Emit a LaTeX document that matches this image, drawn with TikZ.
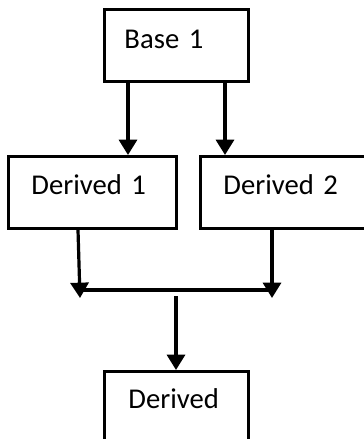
\documentclass[tikz,border=0pt]{standalone}
\usepackage{fontspec}
\setmainfont{Carlito}
\usetikzlibrary{arrows.meta,calc}
\tikzset{
  box/.style={draw, line width=2.2pt, anchor=north west, inner ysep=0pt,
    align=left, font=\fontsize{21.5}{25}\selectfont},
  arr/.style={line width=2.4pt, -{Triangle[width=13.5pt,length=11.5pt]}},
  bus/.style={line width=2.3pt}
}
\begin{document}
\begin{tikzpicture}[x=0.75pt,y=-0.75pt]
  \useasboundingbox (0,0) rectangle (364,439);
  \clip (0,0) rectangle (364,439);
  \fill[white] (0,0) rectangle (364,439);

  % class boxes
  \node[box, inner xsep=15pt, text width=78pt, text height=29.25pt, text depth=24.75pt]
    (base) at (103,8) {Base 1};
  \node[box, inner xsep=17.25pt, text width=91.5pt, text height=28.5pt, text depth=25.5pt]
    (d1) at (7,155) {Derived 1};
  \node[box, inner xsep=17.25pt, text width=91.5pt, text height=28.5pt, text depth=25.5pt]
    (d2) at (199,155) {Derived 2};
  \node[box, inner xsep=18pt, text width=72pt, text height=27.75pt, text depth=26.25pt]
    (der) at (103,370) {Derived};

  % base to the two derived classes
  \coordinate (bl) at ($(base.south west)+(25,0)$);
  \coordinate (br) at ($(base.south west)+(122,0)$);
  \draw[arr] (bl) -- (bl |- d1.north);
  \draw[arr] (br) -- (br |- d2.north);

  % joining bar
  \coordinate (busL) at (80,290);
  \coordinate (busR) at (272,290);
  \coordinate (d1s) at ($(d1.south west)+(71,0)$);
  \coordinate (d2s) at ($(d2.south west)+(73,0)$);
  \draw[arr] (d1s) -- ($(busL)+(0,8)$);
  \draw[arr] (d2s) -- ($(busR)+(0,8)$);
  \draw[bus] (busL) -- (busR);

  % bar down to the final class
  \coordinate (drop) at (176,296);
  \draw[arr] (drop) -- (drop |- der.north);
\end{tikzpicture}
\end{document}
